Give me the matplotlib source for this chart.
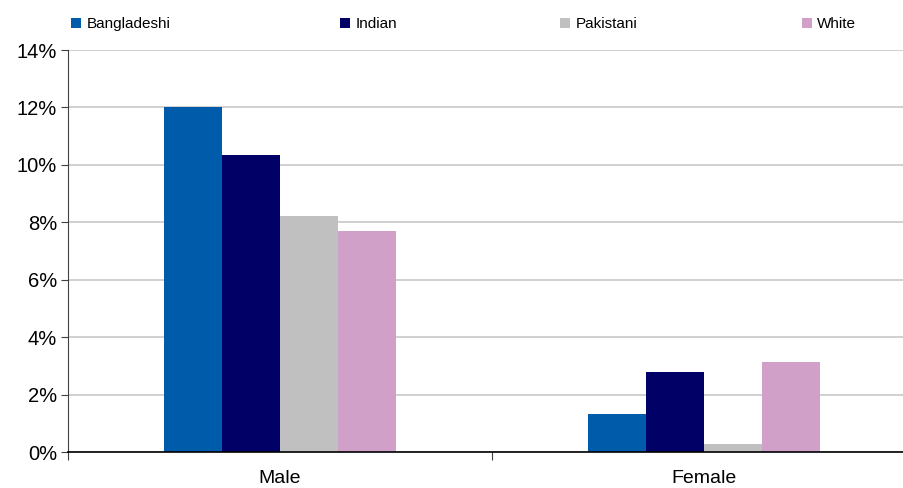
import numpy as np
import matplotlib.pyplot as plt
from matplotlib.ticker import PercentFormatter

plt.rcParams['font.family'] = ['Liberation Sans', 'DejaVu Sans']

categories = ['Male', 'Female']
groups = ['Bangladeshi', 'Indian', 'Pakistani', 'White']
values = {
	'Bangladeshi': [12.03, 1.31],
	'Indian': [10.35, 2.80],
	'Pakistani': [8.23, 0.29],
	'White': [7.70, 3.15],
}
colors = ['#005bab', '#000066', '#c0c0c0', '#d0a0c8']

fig = plt.figure(figsize=(9.04, 4.88), dpi=100)
ax = fig.add_axes([68 / 904, 36 / 488, 848 / 904, 402 / 488])

x = np.arange(len(categories))
width = 0.137
bars = []
for i, g in enumerate(groups):
	b = ax.bar(x + (i - 1.5) * width, values[g], width, color=colors[i], zorder=3)
	bars.append(b)

ax.set_xlim(-0.5, 1.5)
ax.set_ylim(0, 14)
ax.set_yticks(np.arange(0, 15, 2))
ax.yaxis.set_major_formatter(PercentFormatter(decimals=0))
ax.grid(axis='y', color='#c8c8c8', linewidth=1.2, zorder=0)
ax.set_xticks([-0.5, 0.5, 1.5])
ax.set_xticklabels([])
ax.set_xticks(x, minor=True)
ax.set_xticklabels(categories, minor=True, fontsize=14)
ax.tick_params(axis='x', which='minor', length=0, pad=13)
ax.tick_params(axis='x', which='major', length=6, width=0.8, color='#404040')
ax.tick_params(axis='y', length=5, width=0.8, color='#404040', labelsize=14.5, pad=3)

for s in ['top', 'right']:
	ax.spines[s].set_visible(False)
ax.spines['left'].set_color('#404040')
ax.spines['left'].set_linewidth(0.8)
ax.spines['bottom'].set_color('black')
ax.spines['bottom'].set_linewidth(1.2)
ax.spines['bottom'].set_zorder(4)

# one legend box per entry, spread along the top
leg_x = [71, 340, 560, 802]
for b, g, lx in zip(bars, groups, leg_x):
	fig.legend(handles=[b], labels=[g], loc='center left',
		bbox_to_anchor=(lx / 904, 1 - 24 / 488), frameon=False,
		handlelength=0.65, handleheight=0.65, handletextpad=0.35,
		borderpad=0, borderaxespad=0, fontsize=11)

fig.savefig('out.png', dpi=100)
